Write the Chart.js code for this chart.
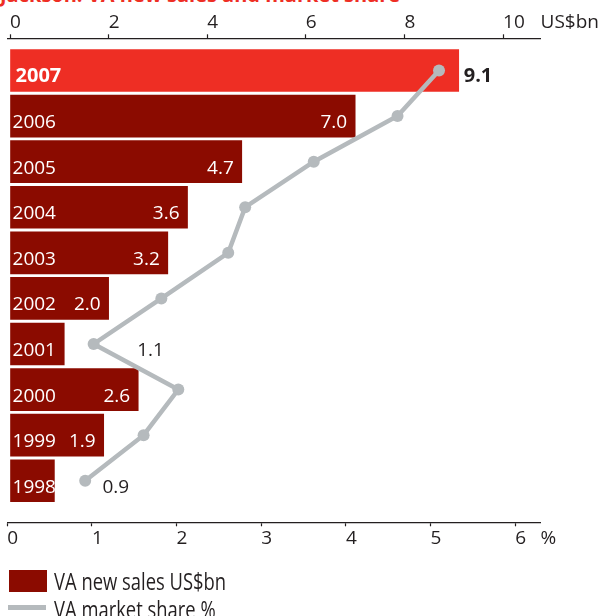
<!DOCTYPE html>
<html>
<head>
<meta charset="utf-8">
<script src="https://cdn.jsdelivr.net/npm/chart.js@4.4.1/dist/chart.umd.min.js"></script>
<style>
  body { margin: 0; background: #fff; }
  #wrap { position: relative; width: 599px; height: 616px; overflow: hidden; }
  #vaChart { position: absolute; left: 0; top: 0; }
  #title {
    position: absolute; left: 0; top: -15.5px;
    font: bold 20px/20px "Open Sans", sans-serif; color: #ee2e24; white-space: nowrap;
  }
  .leg-text {
    position: absolute; left: 54px;
    font: 23px/23px "Open Sans", sans-serif; color: #231f20; white-space: nowrap;
    transform: scaleX(0.8); transform-origin: 0 0;
  }
  .leg-box { position: absolute; }
</style>
</head>
<body>
<div id="wrap">
  <div id="title">Jackson: VA new sales and market share</div>
  <canvas id="vaChart" width="599" height="616"></canvas>
  <div class="leg-box" style="left:9px;top:570px;width:38px;height:22px;background:#8b0b00"></div>
  <div class="leg-text" style="top:570px">VA new sales US$bn</div>
  <div class="leg-box" style="left:8px;top:605px;width:38px;height:5px;background:#b5babd"></div>
  <div class="leg-text" style="top:598px">VA market share %</div>
</div>
<script>
// years from oldest to newest (newest bar at the top)
const years = ["1998", "1999", "2000", "2001", "2002", "2003", "2004", "2005", "2006", "2007"];
const salesBn = [0.9, 1.9, 2.6, 1.1, 2.0, 3.2, 3.6, 4.7, 7.0, 9.1];
const sharePct = [0.92, 1.61, 2.02, 1.02, 1.82, 2.61, 2.81, 3.62, 4.61, 5.10];
const salesTicks = [0, 2, 4, 6, 8, 10];
const shareTicks = [0, 1, 2, 3, 4, 5, 6];
const highlightYear = "2007";

const DARK_RED = "#8b0b00";
const RED = "#ee2e24";
const GREY = "#b5babd";
const INK = "#231f20";
const FONT = '"Open Sans", sans-serif';

const SALES_MIN = -0.055, SALES_MAX = 10.76;
const SHARE_MAX = 6.3;

// labels that sit outside their bar, pushed right by this many px
const outsideShift = { "2007": 5, "2001": 73, "1998": 48 };

const barLabels = {
  id: "barLabels",
  afterDatasetDraw(chart, args) {
    if (args.index !== 0) return;
    const ctx = chart.ctx;
    ctx.save();
    ctx.textBaseline = "alphabetic";
    args.meta.data.forEach((bar, i) => {
      const year = years[i];
      const bold = year === highlightYear;
      const y = bar.y + 12;
      ctx.font = (bold ? "bold 20px " : "19px ") + FONT;
      ctx.fillStyle = "#fff";
      ctx.textAlign = "left";
      ctx.fillText(year, bar.base + (bold ? 5 : 2), y);

      const txt = salesBn[i].toFixed(1);
      if (outsideShift[year] !== undefined) {
        ctx.fillStyle = INK;
        ctx.fillText(txt, bar.x + outsideShift[year], y);
      } else {
        ctx.textAlign = "right";
        ctx.fillText(txt, bar.x - 8, y);
      }
    });
    ctx.restore();
  }
};

function unitAxis(min, max, ticks, unit, pos) {
  return {
    type: "linear",
    position: pos,
    min: min,
    max: max,
    afterBuildTicks: (s) => {
      s.ticks = ticks.concat([max]).map((v) => ({ value: v }));
    },
    afterFit: (s) => {
      s.height = pos === "top" ? 38.3 : 30;
    },
    grid: {
      drawOnChartArea: false,
      tickLength: 4,
      tickWidth: 1.2,
      tickColor: (c) => (c.tick && c.tick.value === max ? "rgba(0,0,0,0)" : INK)
    },
    border: { color: INK, width: 1.3 },
    ticks: {
      align: "start",
      padding: pos === "top" ? 0 : 1,
      color: INK,
      font: { family: FONT, size: 19 },
      callback: (v) => (v === max ? unit : v)
    }
  };
}

document.addEventListener("DOMContentLoaded", () => {
  const ctx = document.getElementById("vaChart").getContext("2d");

  new Chart(ctx, {
    data: {
      datasets: [
        {
          type: "bar",
          label: "VA new sales US$bn",
          data: salesBn.map((v, i) => ({ x: v, y: i })),
          xAxisID: "x",
          yAxisID: "y",
          backgroundColor: years.map((y) => (y === highlightYear ? RED : DARK_RED)),
          barThickness: 42,
          order: 1
        },
        {
          type: "line",
          label: "VA market share %",
          data: sharePct.map((v, i) => ({ x: v, y: i })),
          xAxisID: "x2",
          yAxisID: "y",
          borderColor: GREY,
          borderWidth: 4.5,
          pointRadius: 6,
          pointBackgroundColor: GREY,
          pointBorderWidth: 0,
          tension: 0,
          order: 0
        }
      ]
    },
    options: {
      indexAxis: "y",
      responsive: false,
      animation: false,
      layout: { padding: { left: 7.3, right: 3, top: 0, bottom: 63.7 } },
      plugins: {
        legend: { display: false },
        tooltip: { enabled: false }
      },
      scales: {
        x: unitAxis(SALES_MIN, SALES_MAX, salesTicks, "US$bn", "top"),
        x2: unitAxis(0, SHARE_MAX, shareTicks, "%", "bottom"),
        y: { type: "linear", offset: false, min: -0.911, max: 9.706, display: false }
      }
    },
    plugins: [barLabels]
  });
});
</script>
</body>
</html>
